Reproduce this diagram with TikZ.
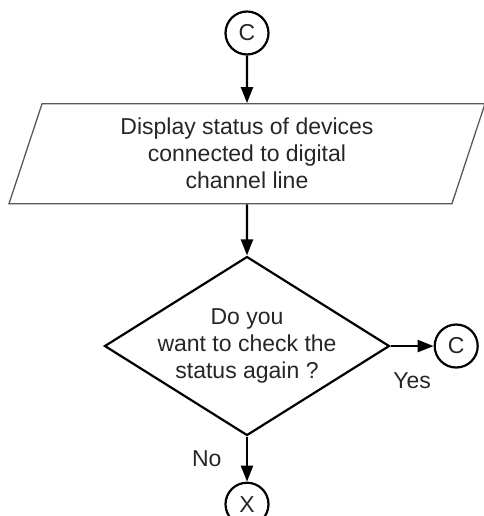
\documentclass[tikz,border=0pt]{standalone}
\usepackage{fontspec}
\setmainfont{Liberation Sans}
\usetikzlibrary{shapes.geometric, arrows.meta, positioning}

\begin{document}
\begin{tikzpicture}[
    font=\fontsize{23}{27}\selectfont,
    text=black!85,
    connector/.style={circle, draw=black, line width=2.2pt, minimum size=43pt, inner sep=0pt},
    io/.style={trapezium, trapezium left angle=65, trapezium right angle=115, trapezium stretches body, draw=black!65, line width=1.3pt, minimum width=476pt, minimum height=100pt, align=center, inner sep=0pt},
    decision/.style={diamond, draw=black, line width=2.2pt, aspect=1.6, minimum width=285pt, minimum height=179pt, inner sep=-4pt, align=center},
    arrow/.style={line width=2.3pt, -{Triangle[length=16pt, width=12pt]}}
]
\useasboundingbox (0,0) rectangle (483pt,-516pt);

% Nodes
\node[connector] (startC) at (247pt,-33pt) {C};
\node[io, below=47.5pt of startC] (display) {Display status of devices\\connected to digital\\channel line};
\node[decision, below=51pt of display] (check) {Do you\\want to check the\\status again ?};
\node[connector, right=43pt of check] (againC) {C};
\node[connector, below=45pt of check] (exitX) {X};

% Edges
\draw[arrow] (startC) -- (display);
\draw[arrow] (display) -- (check);
\draw[arrow] (check) -- node[below=22pt] {Yes} (againC);
\draw[arrow] (check) -- node[left=21pt] {No} (exitX);
\end{tikzpicture}
\end{document}
